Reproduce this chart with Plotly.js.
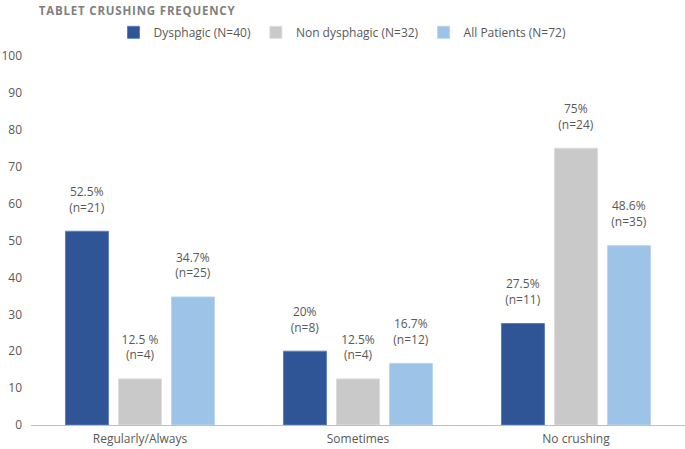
<!DOCTYPE html>
<html>
<head>
<meta charset="utf-8">
<script src="https://cdn.plot.ly/plotly-3.0.1.min.js"></script>
<style>
  html, body { margin: 0; padding: 0; background: #fff; }
  #chart { width: 685px; height: 449px; }
</style>
</head>
<body>
<div id="chart"></div>
<script>
let categories = ["Regularly/Always", "Sometimes", "No crushing"];

let dysphagic = [52.5, 20, 27.5];
let non_dysphagic = [12.5, 12.5, 75];
let all_patients = [34.7, 16.7, 48.6];

let dysphagic_labels = ["52.5%", "20%", "27.5%"];
let dysphagic_counts = ["(n=21)", "(n=8)", "(n=11)"];
let non_dysphagic_labels = ["12.5 %", "12.5%", "75%"];
let non_dysphagic_counts = ["(n=4)", "(n=4)", "(n=24)"];
let all_patients_labels = ["34.7%", "16.7%", "48.6%"];
let all_patients_counts = ["(n=25)", "(n=12)", "(n=35)"];

let y_ticks = [0, 10, 20, 30, 40, 50, 60, 70, 80, 90, 100];

let font_family = "Open Sans, sans-serif";
let text_grey = "#595959";

function makeTrace(name, values, labels, counts, fill, edge) {
    // blank third line keeps the label clear of the bar top
    let text = labels.map((l, i) => l + "<br>" + counts[i] + "<br><span style='font-size:5px'> </span>");
    return {
        type: "bar",
        name: name,
        x: categories,
        y: values,
        text: text,
        textposition: "outside",
        cliponaxis: false,
        textfont: { family: font_family, size: 12, color: text_grey },
        marker: { color: fill, line: { color: edge, width: 1 } },
        hoverinfo: "skip"
    };
}

let data = [
    makeTrace("Dysphagic (N=40)", dysphagic, dysphagic_labels, dysphagic_counts, "#2F5597", "#5B7FBF"),
    makeTrace("Non dysphagic (N=32)", non_dysphagic, non_dysphagic_labels, non_dysphagic_counts, "#C9C9C9", "#DCDCDC"),
    makeTrace("All Patients (N=72)", all_patients, all_patients_labels, all_patients_counts, "#9DC3E6", "#B9D5EF")
];

let layout = {
    width: 685,
    height: 449,
    margin: { l: 31, r: 0, t: 56, b: 24 },
    paper_bgcolor: "#fff",
    plot_bgcolor: "#fff",
    barmode: "group",
    bargap: 0.27,
    bargroupgap: 0.19,
    font: { family: font_family, size: 12, color: text_grey },
    title: {
        text: "<span style='letter-spacing:0.8px'><b>TABLET CRUSHING FREQUENCY</b></span>",
        font: { family: "Open Sans, sans-serif", size: 11.5, color: "#7F7F7F" },
        x: 0.012,
        xanchor: "left",
        xref: "paper",
        y: 0.984,
        yanchor: "top",
        yref: "container"
    },
    showlegend: true,
    legend: {
        orientation: "h",
        x: 0.5,
        xanchor: "center",
        xref: "container",
        y: 0.928,
        yanchor: "middle",
        yref: "container",
        font: { family: font_family, size: 12, color: text_grey },
        itemwidth: 30,
        traceorder: "normal"
    },
    xaxis: {
        type: "category",
        showline: true,
        linecolor: "#BFBFBF",
        linewidth: 1,
        ticks: "",
        showgrid: false,
        ticklabelstandoff: 3,
        tickfont: { family: font_family, size: 12, color: text_grey }
    },
    yaxis: {
        range: [0, 100],
        tickvals: y_ticks,
        showgrid: false,
        zeroline: false,
        showline: false,
        ticks: "",
        ticklabelstandoff: 8,
        tickfont: { family: font_family, size: 12, color: text_grey }
    }
};

Plotly.newPlot("chart", data, layout, { displayModeBar: false, staticPlot: true });
</script>
</body>
</html>
